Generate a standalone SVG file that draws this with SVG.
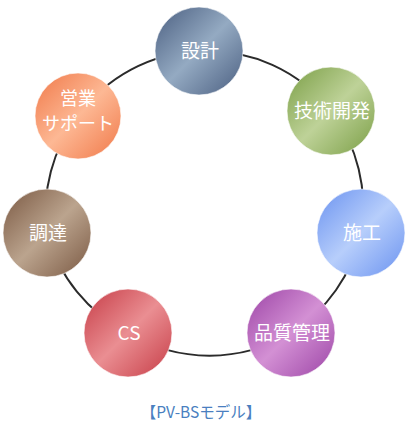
<svg xmlns="http://www.w3.org/2000/svg" width="412" height="430" viewBox="0 0 412 430">
<style>
.ring{fill:none;stroke:#2b2b2b;stroke-width:2}
.lbl{fill:#ffffff;font-family:"Noto Sans CJK JP","Noto Sans",sans-serif;font-size:19px;text-anchor:middle}
.node circle{stroke:#ffffff;stroke-opacity:0.6;stroke-width:1}
.cap{fill:#4a7fc0;font-family:"Noto Sans CJK JP","Noto Sans",sans-serif;font-size:15.5px;text-anchor:middle}
</style>
<defs>
<linearGradient id="gBlue" x1="0" y1="0" x2="1" y2="1"><stop offset="0" stop-color="#4a5e80"/><stop offset="0.5" stop-color="#94aac2"/><stop offset="1" stop-color="#4a5e80"/></linearGradient>
<linearGradient id="gGreen" x1="0" y1="0" x2="1" y2="1"><stop offset="0" stop-color="#7a9e45"/><stop offset="0.5" stop-color="#bed298"/><stop offset="1" stop-color="#7a9e45"/></linearGradient>
<linearGradient id="gSky" x1="0" y1="0" x2="1" y2="1"><stop offset="0" stop-color="#6a92f0"/><stop offset="0.5" stop-color="#b7cefb"/><stop offset="1" stop-color="#6a92f0"/></linearGradient>
<linearGradient id="gPurple" x1="0" y1="0" x2="1" y2="1"><stop offset="0" stop-color="#9c44a6"/><stop offset="0.5" stop-color="#d390d4"/><stop offset="1" stop-color="#9c44a6"/></linearGradient>
<linearGradient id="gRed" x1="0" y1="0" x2="1" y2="1"><stop offset="0" stop-color="#c63c46"/><stop offset="0.5" stop-color="#ea8e92"/><stop offset="1" stop-color="#c63c46"/></linearGradient>
<linearGradient id="gBrown" x1="0" y1="0" x2="1" y2="1"><stop offset="0" stop-color="#7a5842"/><stop offset="0.5" stop-color="#bba48e"/><stop offset="1" stop-color="#7a5842"/></linearGradient>
<linearGradient id="gOrange" x1="0" y1="0" x2="1" y2="1"><stop offset="0" stop-color="#f07848"/><stop offset="0.5" stop-color="#fdb894"/><stop offset="1" stop-color="#f07848"/></linearGradient>
</defs>
<g id="connectors">
<path class="ring" d="M199,51 A158,158 0 0 1 331,111"/>
<path class="ring" d="M331,111 A158,158 0 0 1 361,233"/>
<path class="ring" d="M361,233 A158,158 0 0 1 291,333"/>
<path class="ring" d="M291,333 A158,158 0 0 1 128,333"/>
<path class="ring" d="M128,333 A158,158 0 0 1 47,233"/>
<path class="ring" d="M47,233 A158,158 0 0 1 78,116"/>
<path class="ring" d="M78,116 A158,158 0 0 1 199,51"/>
</g>
<g id="n-sekkei" class="node"><circle cx="199" cy="51" r="44" fill="url(#gBlue)"/><text class="lbl" x="200" y="58">設計</text></g>
<g id="n-gijutsu" class="node"><circle cx="331" cy="111" r="44" fill="url(#gGreen)"/><text class="lbl" x="332" y="118">技術開発</text></g>
<g id="n-seko" class="node"><circle cx="361" cy="233" r="44" fill="url(#gSky)"/><text class="lbl" x="362" y="240">施工</text></g>
<g id="n-hinshitsu" class="node"><circle cx="291" cy="333" r="44" fill="url(#gPurple)"/><text class="lbl" x="292" y="340">品質管理</text></g>
<g id="n-cs" class="node"><circle cx="128" cy="333" r="44" fill="url(#gRed)"/><text class="lbl" x="129" y="340">CS</text></g>
<g id="n-chotatsu" class="node"><circle cx="47" cy="233" r="44" fill="url(#gBrown)"/><text class="lbl" x="48" y="240">調達</text></g>
<g id="n-eigyo" class="node"><circle cx="78" cy="116" r="43" fill="url(#gOrange)"/><text class="lbl" x="78" y="105" style="font-size:18px">営業</text><text class="lbl" x="78" y="130" style="font-size:18px">サポート</text></g>
<text class="cap" x="201" y="418">【PV-BSモデル】</text>
</svg>
